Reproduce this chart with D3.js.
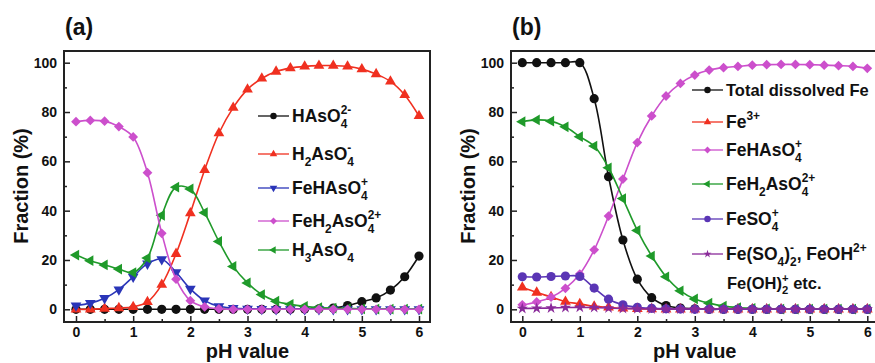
<!DOCTYPE html>
<html>
<head>
<meta charset="utf-8">
<script src="https://cdn.jsdelivr.net/npm/d3@7"></script>
<style>
body { margin: 0; background: #fff; }
text { font-family: "Liberation Sans", Arial, sans-serif; font-weight: bold; fill: #111; }
</style>
</head>
<body>
<svg width="875" height="363"></svg>
<script>
var ph = [0, 0.25, 0.5, 0.75, 1, 1.25, 1.5, 1.75, 2, 2.25, 2.5, 2.75, 3,
          3.25, 3.5, 3.75, 4, 4.25, 4.5, 4.75, 5, 5.25, 5.5, 5.75, 6];
var xTicks = [0, 1, 2, 3, 4, 5, 6];
var yTicks = [0, 20, 40, 60, 80, 100];

// panel (a) - arsenic species
var aHAsO4 = [0, 0, 0, 0, 0, 0, 0, 0, 0, 0, 0, 0, 0, 0, 0, 0, 0.1, 0.2, 0.5, 1.5, 3.1, 4.6, 7.8, 13.2, 21.6];
var aH2AsO4 = [0, 0, 0.3, 0.5, 1, 3, 10, 22.5, 39, 56.5, 71.4, 81.8, 89.2, 93.6, 96.4, 97.8, 98.5, 98.8, 98.8, 98.5, 97.4, 95.4, 92.4, 86.9, 78.4];
var aFeHAsO4 = [1.5, 2.5, 4.5, 8, 13.2, 18.5, 20.3, 15, 8.3, 3.5, 1.2, 0.5, 0.2, 0.1, 0, 0, 0, 0, 0, 0, 0, 0, 0, 0, 0];
var aFeH2AsO4 = [76.1, 76.6, 76.3, 74.1, 69.9, 55.4, 30.8, 12.2, 3.5, 1, 0.2, 0, 0, 0, 0, 0, 0, 0, 0, 0, 0, 0, 0, 0, 0];
var aH3AsO4 = [22, 19.7, 18, 16.3, 14.9, 20.8, 38.1, 49.5, 48.8, 39.2, 27.5, 17.4, 10.7, 6, 3.3, 2, 1.2, 0.7, 0.5, 0.3, 0.2, 0.1, 0.1, 0.1, 0.1];

// panel (b) - iron species
var bTotalFe = [100, 100, 100, 100, 100, 85.4, 53.8, 28.1, 12.2, 4.7, 1.5, 0.5, 0.2, 0, 0, 0, 0, 0, 0, 0, 0, 0, 0, 0, 0];
var bFe3 = [8.9, 6.8, 5, 3.1, 2.2, 1.2, 0.8, 0.4, 0.2, 0.1, 0, 0, 0, 0, 0, 0, 0, 0, 0, 0, 0, 0, 0, 0, 0];
var bFeHAsO4 = [1.8, 3, 4.9, 8.5, 14.3, 24.1, 37.8, 52.8, 67.6, 78.4, 86.5, 91.6, 95, 97, 98, 98.5, 99, 99.2, 99.3, 99.3, 99.2, 99, 98.8, 98.5, 97.7];
var bFeH2AsO4 = [76.1, 76.8, 76.3, 74, 70, 66.2, 57.4, 44.9, 32, 21.6, 13.2, 7.5, 4.2, 2.5, 1.3, 0.7, 0.4, 0.2, 0.1, 0.1, 0.1, 0.1, 0.1, 0.1, 0.1];
var bFeSO4 = [13.2, 13.1, 13.3, 13.5, 13.3, 8.6, 4.1, 1.8, 0.8, 0.4, 0.2, 0.1, 0, 0, 0, 0, 0, 0, 0, 0, 0, 0, 0, 0, 0];
var bOther = [0.3, 0.4, 0.5, 0.7, 0.8, 0.7, 0.5, 0.3, 0.2, 0.1, 0.1, 0.1, 0.1, 0.1, 0.1, 0.1, 0.1, 0.1, 0.1, 0.1, 0.1, 0.1, 0.1, 0.1, 0.1];

var svg = d3.select("svg");

var symbols = {
    circle: function (sel) { sel.append("circle").attr("r", 4.6); },
    up: function (sel) { sel.append("path").attr("d", d3.symbol(d3.symbolTriangle, 50)()); },
    down: function (sel) { sel.append("path").attr("d", d3.symbol(d3.symbolTriangle, 50)()).attr("transform", "rotate(180)"); },
    left: function (sel) { sel.append("path").attr("d", d3.symbol(d3.symbolTriangle, 50)()).attr("transform", "rotate(-90)"); },
    diamond: function (sel) { sel.append("path").attr("d", d3.symbol(d3.symbolSquare, 48)()).attr("transform", "rotate(45)"); },
    star: function (sel) { sel.append("path").attr("d", d3.symbol(d3.symbolStar, 40)()); }
};

// label with stacked subscripts / superscripts
function richText(g, x, y, parts, size) {
    var cx = x;
    var small = size * 0.68;
    parts.forEach(function (p) {
        if (typeof p === "string") {
            var t = g.append("text").attr("x", cx).attr("y", y).attr("font-size", size)
                .attr("xml:space", "preserve").text(p);
            cx += t.node().getComputedTextLength();
        } else {
            var w = 0;
            if (p.b) {
                var tb = g.append("text").attr("x", cx).attr("y", y + size * 0.32).attr("font-size", small).text(p.b);
                w = Math.max(w, tb.node().getComputedTextLength());
            }
            if (p.s) {
                var ts = g.append("text").attr("x", cx).attr("y", y - size * 0.45).attr("font-size", small).text(p.s);
                w = Math.max(w, ts.node().getComputedTextLength());
            }
            cx += w;
        }
    });
}

function drawPanel(cfg) {
    var g = svg.append("g");
    var x = d3.scaleLinear().domain([0, 6]).range(cfg.xr);
    var y = d3.scaleLinear().domain([0, 100]).range([309.3, 62.7]);

    var clip = "clip" + cfg.id;
    svg.append("clipPath").attr("id", clip).append("rect")
        .attr("x", cfg.frame[0]).attr("y", 51)
        .attr("width", cfg.frame[1] - cfg.frame[0]).attr("height", 271);

    // axes, ticks pointing inward
    var yAxis = d3.axisLeft(y).tickValues(yTicks).tickSizeInner(-6).tickSizeOuter(0).tickPadding(7).tickFormat(d3.format("d"));
    var yMinor = d3.axisLeft(y).tickValues([10, 30, 50, 70, 90]).tickSizeInner(-3).tickSizeOuter(0).tickFormat("");
    var xAxis = d3.axisBottom(x).tickValues(xTicks).tickSizeInner(-6).tickSizeOuter(0).tickPadding(5).tickFormat(d3.format("d"));
    var xMinor = d3.axisBottom(x).tickValues([0.5, 1.5, 2.5, 3.5, 4.5, 5.5]).tickSizeInner(-3).tickSizeOuter(0).tickFormat("");

    [[yAxis, "translate(" + cfg.frame[0] + ",0)"], [yMinor, "translate(" + cfg.frame[0] + ",0)"],
     [xAxis, "translate(0,322)"], [xMinor, "translate(0,322)"]].forEach(function (a) {
        var ag = g.append("g").attr("transform", a[1]).call(a[0]);
        ag.select(".domain").remove();
        ag.selectAll("line").attr("stroke", "#222").attr("stroke-width", 1.5);
        ag.selectAll("text").attr("font-size", 14).attr("font-family", null).attr("fill", "#111");
    });

    var line = d3.line().x(function (d) { return x(d[0]); }).y(function (d) { return y(d[1]); })
        .curve(d3.curveCatmullRom);

    var plot = g.append("g").attr("clip-path", "url(#" + clip + ")");
    cfg.drawOrder.forEach(function (k) {
        var s = cfg.series[k];
        var pts = ph.map(function (p, i) { return [p, s.values[i]]; });
        plot.append("path").attr("d", line(pts)).attr("fill", "none")
            .attr("stroke", s.color).attr("stroke-width", 1.6);
        plot.selectAll(null).data(pts).enter().append("g")
            .attr("transform", function (d) { return "translate(" + x(d[0]) + "," + y(d[1]) + ")"; })
            .attr("fill", s.color)
            .each(function () { symbols[s.shape](d3.select(this)); });
    });

    // frame
    g.append("rect").attr("x", cfg.frame[0]).attr("y", 51)
        .attr("width", cfg.frame[1] - cfg.frame[0]).attr("height", 271)
        .attr("fill", "none").attr("stroke", "#222").attr("stroke-width", 2);

    // legend
    var lg = g.append("g");
    cfg.series.forEach(function (s, i) {
        var ly = cfg.legY[i];
        lg.append("line").attr("x1", cfg.legX).attr("x2", cfg.legX + 31)
            .attr("y1", ly).attr("y2", ly).attr("stroke", s.color).attr("stroke-width", 1.3);
        var m = lg.append("g").attr("fill", s.color);
        symbols[s.shape](m);
        m.attr("transform", "translate(" + (cfg.legX + 15.5) + "," + ly + ") scale(0.7)");
        richText(lg, cfg.legX + 34, ly + 6, s.label, s.size || 17.5);
    });
    if (cfg.extra) richText(lg, cfg.extra.x, cfg.extra.y, cfg.extra.label, 16.5);

    // titles
    g.append("text").attr("x", cfg.frame[0] + 1).attr("y", 35).attr("font-size", 23).text(cfg.title);
    g.append("text").attr("transform", "translate(" + (cfg.frame[0] - 36) + ",186) rotate(-90)")
        .attr("text-anchor", "middle").attr("font-size", 20).text("Fraction (%)");
    g.append("text").attr("x", (cfg.xr[0] + cfg.xr[1]) / 2).attr("y", 358)
        .attr("text-anchor", "middle").attr("font-size", 20).text("pH value");
}

drawPanel({
    id: "a", title: "(a)", xr: [76, 419], frame: [64, 430],
    legX: 258, legY: [116, 154, 188, 221, 250],
    drawOrder: [0, 1, 2, 4, 3],
    series: [
        { values: aHAsO4, color: "#111111", shape: "circle", label: ["HAsO", { b: "4", s: "2-" }] },
        { values: aH2AsO4, color: "#f03020", shape: "up", label: ["H", { b: "2" }, "AsO", { b: "4", s: "-" }] },
        { values: aFeHAsO4, color: "#2a35b8", shape: "down", label: ["FeHAsO", { b: "4", s: "+" }] },
        { values: aFeH2AsO4, color: "#cc4fcc", shape: "diamond", label: ["FeH", { b: "2" }, "AsO", { b: "4", s: "2+" }] },
        { values: aH3AsO4, color: "#1f9a2a", shape: "left", label: ["H", { b: "3" }, "AsO", { b: "4" }] }
    ]
});

drawPanel({
    id: "b", title: "(b)", xr: [522.3, 867.3], frame: [511, 880],
    legX: 692, legY: [90, 122, 150, 184, 219, 254],
    drawOrder: [0, 1, 2, 3, 4, 5],
    extra: { x: 727, y: 289, label: ["Fe(OH)", { b: "2", s: "+" }, " etc."] },
    series: [
        { values: bTotalFe, color: "#111111", shape: "circle", label: ["Total dissolved Fe"], size: 16.5 },
        { values: bFe3, color: "#f03020", shape: "up", label: ["Fe", { s: "3+" }] },
        { values: bFeHAsO4, color: "#cc4fcc", shape: "diamond", label: ["FeHAsO", { b: "4", s: "+" }] },
        { values: bFeH2AsO4, color: "#1f9a2a", shape: "left", label: ["FeH", { b: "2" }, "AsO", { b: "4", s: "2+" }] },
        { values: bFeSO4, color: "#5a35b5", shape: "circle", label: ["FeSO", { b: "4", s: "+" }] },
        { values: bOther, color: "#8a2a9a", shape: "star", label: ["Fe(SO", { b: "4" }, ")", { b: "2", s: "-" }, ", FeOH", { s: "2+" }] }
    ]
});
</script>
</body>
</html>
